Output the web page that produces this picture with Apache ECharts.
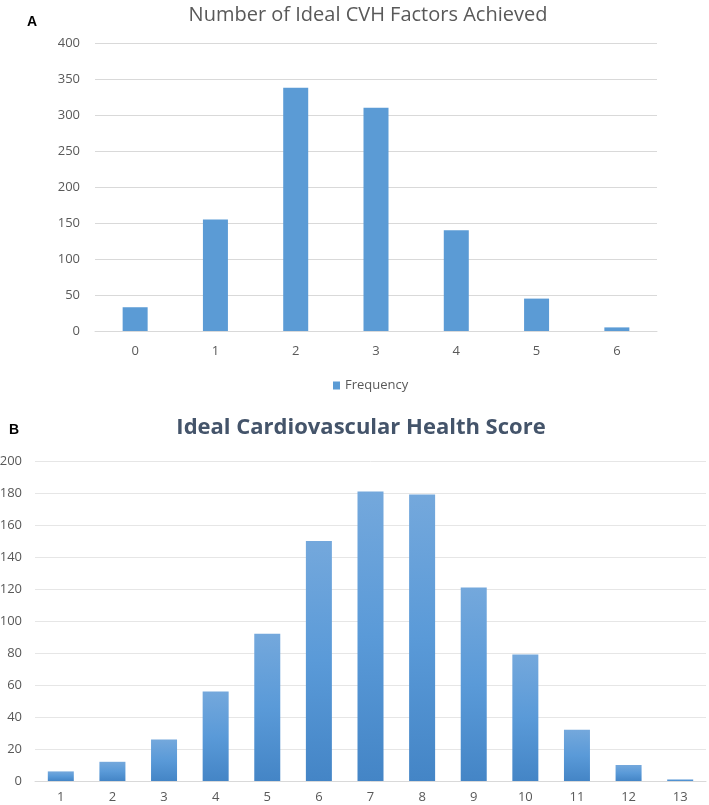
<!DOCTYPE html>
<html>
<head>
<meta charset="utf-8">
<script src="https://cdn.jsdelivr.net/npm/echarts@6/dist/echarts.min.js"></script>
<style>
html, body { margin: 0; padding: 0; background: #fff; }
#main { width: 709px; height: 805px; }
</style>
</head>
<body>
<div id="main"></div>
<script>
// panel A
var factorCats = ['0', '1', '2', '3', '4', '5', '6'];
var factorFreq = [33, 155, 338, 310, 140, 45, 5];
// panel B
var scoreCats = ['1', '2', '3', '4', '5', '6', '7', '8', '9', '10', '11', '12', '13'];
var scoreFreq = [6, 12, 26, 56, 92, 150, 181, 179, 121, 79, 32, 10, 1];

var myChart = echarts.init(document.getElementById('main'));
var labelFont = 'Open Sans';
var option = {
	backgroundColor: '#ffffff',
	animation: false,
	title: [{
		text: 'Number of Ideal CVH Factors Achieved',
		left: 363,
		top: 0,
		textAlign: 'center',
		textStyle: { color: '#595959', fontFamily: labelFont, fontWeight: 'normal', fontSize: 20 }
	}, {
		text: 'A',
		left: 22,
		top: 10,
		textStyle: { color: '#000', fontFamily: 'Liberation Sans', fontWeight: 'bold', fontSize: 14 }
	}, {
		text: 'Ideal Cardiovascular Health Score',
		left: 356,
		top: 412,
		textAlign: 'center',
		textStyle: { color: '#44546a', fontFamily: labelFont, fontWeight: 'bold', fontSize: 22 }
	}, {
		text: 'B',
		left: 4,
		top: 418,
		textStyle: { color: '#000', fontFamily: 'Liberation Sans', fontWeight: 'bold', fontSize: 14 }
	}],
	legend: {
		data: ['Frequency'],
		left: 328,
		top: 374,
		itemWidth: 7,
		itemHeight: 8,
		itemGap: 4,
		icon: 'rect',
		textStyle: { color: '#595959', fontFamily: labelFont, fontSize: 13 }
	},
	grid: [
		{ left: 95, right: 52, top: 43, height: 288, outerBoundsMode: 'none' },
		{ left: 35, right: 3, top: 461, height: 320, outerBoundsMode: 'none' }
	],
	xAxis: [{
		type: 'category',
		gridIndex: 0,
		data: factorCats,
		axisTick: { show: false },
		axisLine: { lineStyle: { color: '#d9d9d9' } },
		axisLabel: { color: '#595959', fontFamily: labelFont, fontSize: 13, margin: 14 }
	}, {
		type: 'category',
		gridIndex: 1,
		data: scoreCats,
		offset: 5,
		axisTick: { show: false },
		axisLine: { lineStyle: { color: '#d9d9d9' } },
		axisLabel: { color: '#595959', fontFamily: labelFont, fontSize: 13, margin: 5 }
	}],
	yAxis: [{
		type: 'value',
		gridIndex: 0,
		min: 0,
		max: 400,
		interval: 50,
		axisLine: { show: false },
		axisTick: { show: false },
		splitLine: { lineStyle: { color: '#d9d9d9' } },
		axisLabel: { color: '#595959', fontFamily: labelFont, fontSize: 13, margin: 15 }
	}, {
		type: 'value',
		gridIndex: 1,
		min: 0,
		max: 200,
		interval: 20,
		axisLine: { show: false },
		axisTick: { show: false },
		splitLine: { lineStyle: { color: '#e6e6e6' } },
		axisLabel: { color: '#595959', fontFamily: labelFont, fontSize: 13, margin: 13 }
	}],
	series: [{
		name: 'Frequency',
		type: 'bar',
		xAxisIndex: 0,
		yAxisIndex: 0,
		data: factorFreq,
		barWidth: 25,
		itemStyle: { color: '#5b9bd5' }
	}, {
		name: 'Score',
		type: 'bar',
		xAxisIndex: 1,
		yAxisIndex: 1,
		data: scoreFreq,
		barWidth: 26,
		itemStyle: {
			color: {
				type: 'linear', x: 0, y: 0, x2: 0, y2: 1,
				colorStops: [
					{ offset: 0, color: '#74a8dc' },
					{ offset: 0.5, color: '#5a9ad8' },
					{ offset: 1, color: '#4485c6' }
				]
			}
		}
	}]
};
myChart.setOption(option);
</script>
</body>
</html>
